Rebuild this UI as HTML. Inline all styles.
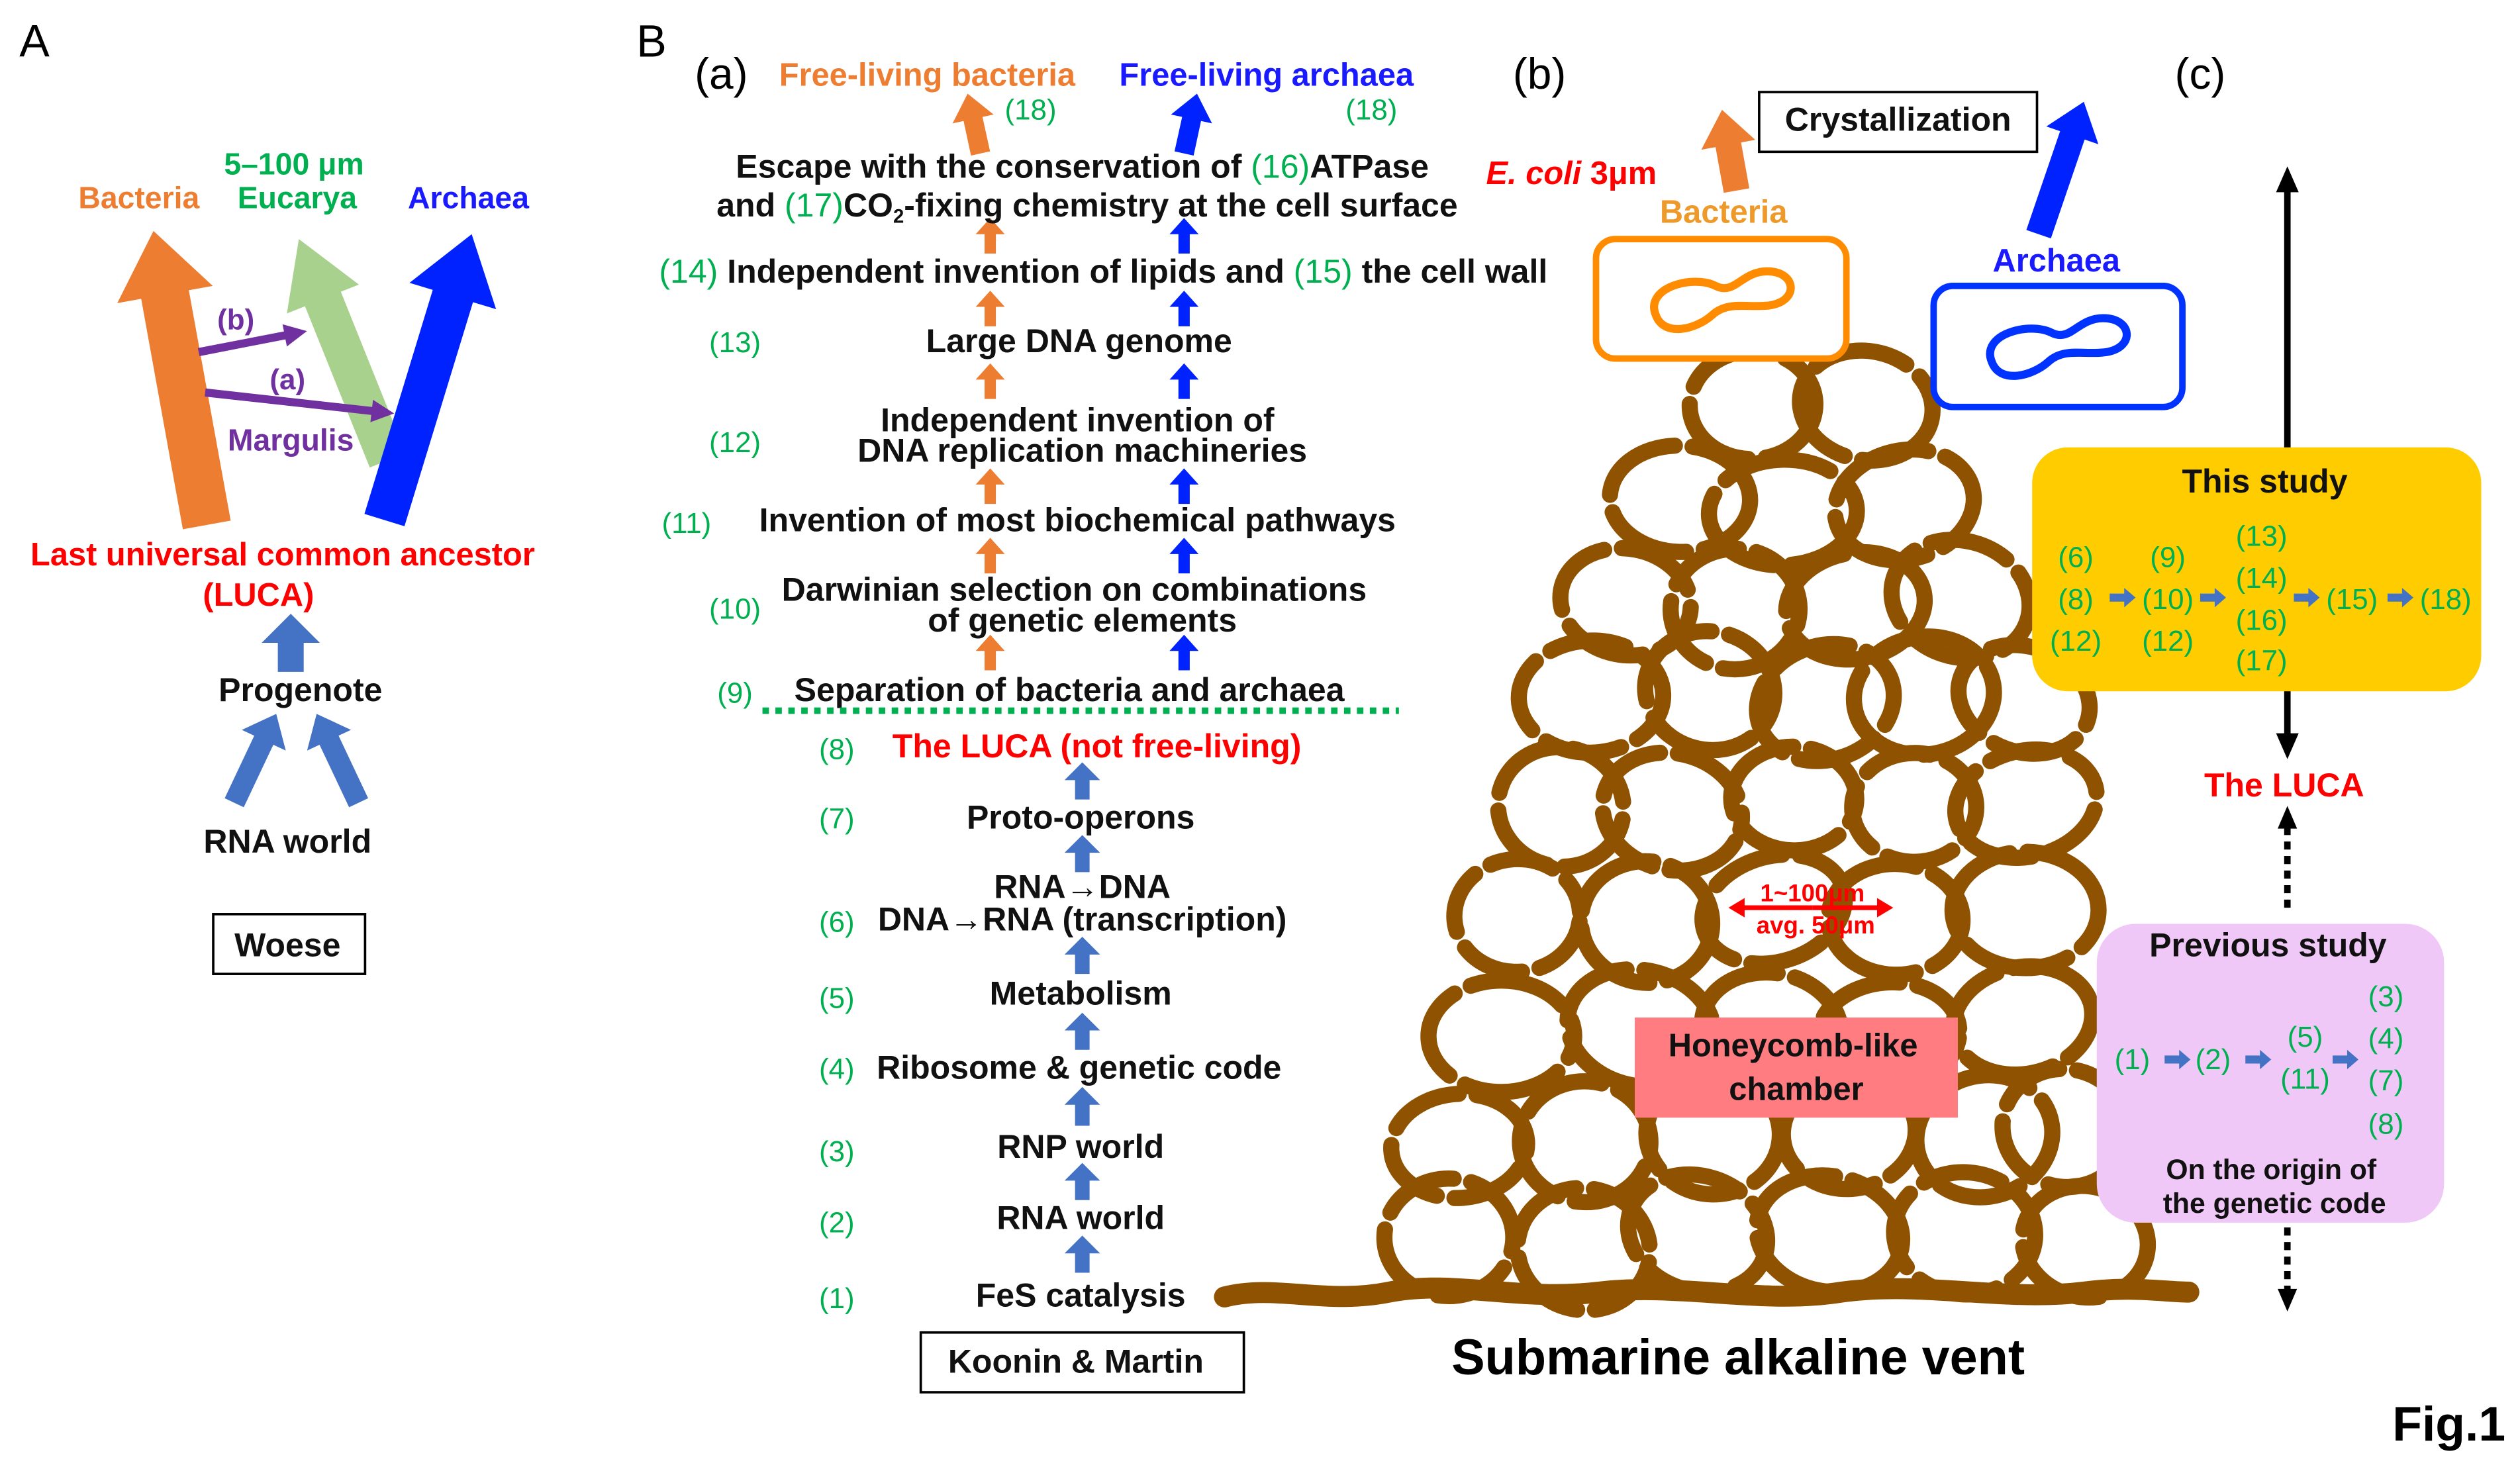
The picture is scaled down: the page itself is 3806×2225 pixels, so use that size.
<!DOCTYPE html>
<html><head><meta charset="utf-8">
<style>
html,body{margin:0;padding:0;background:#fff;}
svg{display:block;}
text{font-family:"Liberation Sans","DejaVu Sans",sans-serif;}
.b{font-weight:bold;}
.k{fill:#111;font-weight:bold;font-size:20.5px;}
.g{fill:#00b050;font-size:18px;}
</style></head><body>
<svg id="s" xmlns="http://www.w3.org/2000/svg" width="3806" height="2225" viewBox="0 0 1560 912" preserveAspectRatio="none">
<rect width="1560" height="912" fill="#fff"/>
<g id="arrows"></g>
<g id="comb" fill="none" stroke="#8f5200" stroke-width="10" stroke-linecap="round"></g>

<!-- Panel A -->
<text x="12" y="35" font-size="28" fill="#000">A</text>
<text x="182" y="108" text-anchor="middle" font-size="19" fill="#00b050" class="b">5–100 μm</text>
<text x="86" y="129" text-anchor="middle" font-size="19" fill="#ed7d31" class="b">Bacteria</text>
<text x="184" y="129" text-anchor="middle" font-size="19" fill="#00b050" class="b">Eucarya</text>
<text x="290" y="129" text-anchor="middle" font-size="19" fill="#1a1aff" class="b">Archaea</text>
<text x="146" y="204" text-anchor="middle" font-size="18" fill="#7030a0" class="b">(b)</text>
<text x="178" y="241" text-anchor="middle" font-size="18" fill="#7030a0" class="b">(a)</text>
<text x="180" y="279" text-anchor="middle" font-size="19" fill="#7030a0" class="b">Margulis</text>
<text x="175" y="350" text-anchor="middle" font-size="20" fill="#ff0000" class="b">Last universal common ancestor</text>
<text x="160" y="375" text-anchor="middle" font-size="20" fill="#ff0000" class="b">(LUCA)</text>
<text x="186" y="434" text-anchor="middle" class="k">Progenote</text>
<text x="178" y="528" text-anchor="middle" class="k">RNA world</text>
<rect x="132" y="566" width="94" height="37" fill="none" stroke="#000" stroke-width="1.5"/>
<text x="178" y="592" text-anchor="middle" class="k">Woese</text>

<!-- Panel B(a) -->
<text x="394" y="35" font-size="28" fill="#000">B</text>
<text x="430" y="55" font-size="27" fill="#000">(a)</text>
<text x="574" y="53" text-anchor="middle" font-size="20" fill="#ed7d31" class="b">Free-living bacteria</text>
<text x="784" y="53" text-anchor="middle" font-size="20" fill="#1a1aff" class="b">Free-living archaea</text>
<text x="638" y="74" text-anchor="middle" class="g">(18)</text>
<text x="849" y="74" text-anchor="middle" class="g">(18)</text>
<text x="670" y="110" text-anchor="middle" class="k">Escape with the conservation of <tspan fill="#00b050" font-weight="normal">(16)</tspan>ATPase</text>
<text x="673" y="134" text-anchor="middle" class="k">and <tspan fill="#00b050" font-weight="normal">(17)</tspan>CO<tspan font-size="12" dy="4">2</tspan><tspan dy="-4">-fixing chemistry at the cell surface</tspan></text>
<text x="408" y="175" class="k"><tspan fill="#00b050" font-weight="normal">(14)</tspan> Independent invention of lipids and <tspan fill="#00b050" font-weight="normal">(15)</tspan> the cell wall</text>
<text x="455" y="218" text-anchor="middle" class="g">(13)</text>
<text x="668" y="218" text-anchor="middle" class="k">Large DNA genome</text>
<text x="455" y="280" text-anchor="middle" class="g">(12)</text>
<text x="667" y="267" text-anchor="middle" class="k">Independent invention of</text>
<text x="670" y="286" text-anchor="middle" class="k">DNA replication machineries</text>
<text x="425" y="330" text-anchor="middle" class="g">(11)</text>
<text x="667" y="329" text-anchor="middle" class="k">Invention of most biochemical pathways</text>
<text x="455" y="383" text-anchor="middle" class="g">(10)</text>
<text x="665" y="372" text-anchor="middle" class="k">Darwinian selection on combinations</text>
<text x="670" y="391" text-anchor="middle" class="k">of genetic elements</text>
<text x="455" y="435" text-anchor="middle" class="g">(9)</text>
<text x="662" y="434" text-anchor="middle" class="k">Separation of bacteria and archaea</text>
<line x1="472" y1="440" x2="866" y2="440" stroke="#00b050" stroke-width="4" stroke-dasharray="4 4"/>
<text x="518" y="470" text-anchor="middle" class="g">(8)</text>
<text x="679" y="469" text-anchor="middle" font-size="20.5" fill="#ff0000" class="b">The LUCA (not free-living)</text>
<text x="518" y="513" text-anchor="middle" class="g">(7)</text>
<text x="669" y="513" text-anchor="middle" class="k">Proto-operons</text>
<text x="670" y="556" text-anchor="middle" class="k">RNA→DNA</text>
<text x="518" y="577" text-anchor="middle" class="g">(6)</text>
<text x="670" y="576" text-anchor="middle" class="k">DNA→RNA (transcription)</text>
<text x="518" y="624" text-anchor="middle" class="g">(5)</text>
<text x="669" y="622" text-anchor="middle" class="k">Metabolism</text>
<text x="518" y="668" text-anchor="middle" class="g">(4)</text>
<text x="668" y="668" text-anchor="middle" class="k">Ribosome &amp; genetic code</text>
<text x="518" y="719" text-anchor="middle" class="g">(3)</text>
<text x="669" y="717" text-anchor="middle" class="k">RNP world</text>
<text x="518" y="763" text-anchor="middle" class="g">(2)</text>
<text x="669" y="761" text-anchor="middle" class="k">RNA world</text>
<text x="518" y="810" text-anchor="middle" class="g">(1)</text>
<text x="669" y="809" text-anchor="middle" class="k">FeS catalysis</text>
<rect x="570" y="825" width="200" height="37" fill="none" stroke="#000" stroke-width="1.5"/>
<text x="666" y="850" text-anchor="middle" class="k">Koonin &amp; Martin</text>

<!-- Panel B(b) -->
<text x="953" y="55" text-anchor="middle" font-size="27" fill="#000">(b)</text>
<rect x="1089" y="57" width="172" height="37" fill="#fff" stroke="#000" stroke-width="1.5"/>
<text x="1175" y="81" text-anchor="middle" class="k">Crystallization</text>
<text x="920" y="114" font-size="20" fill="#ff0000" class="b"><tspan font-style="italic">E. coli</tspan> 3μm</text>
<text x="1067" y="138" text-anchor="middle" font-size="20" fill="#ed9a2a" class="b">Bacteria</text>
<rect x="988" y="148" width="155" height="74" rx="12" fill="#fff" stroke="#ff8c00" stroke-width="4"/>
<path d="M1025,195 C1018,178 1048,170 1062,177 C1074,183 1078,168 1094,168 C1112,168 1114,186 1096,189 C1082,191 1070,186 1060,195 C1050,204 1030,209 1025,195 Z" fill="none" stroke="#ff8c00" stroke-width="5"/>
<text x="1273" y="168" text-anchor="middle" font-size="20" fill="#1a1aff" class="b">Archaea</text>
<rect x="1197" y="177" width="154" height="75" rx="12" fill="#fff" stroke="#0033ff" stroke-width="4"/>
<path d="M1233,224 C1226,207 1256,199 1270,206 C1282,212 1286,197 1302,197 C1320,197 1322,215 1304,218 C1290,220 1278,215 1268,224 C1258,233 1238,238 1233,224 Z" fill="none" stroke="#0033ff" stroke-width="5"/>
<text x="1076" y="851" text-anchor="middle" font-size="31" fill="#000" class="b">Submarine alkaline vent</text>

<!-- Panel (c) -->
<text x="1362" y="55" text-anchor="middle" font-size="27" fill="#000">(c)</text>
<line x1="1416" y1="115" x2="1416" y2="460" stroke="#000" stroke-width="4"/>
<polygon points="1416,103 1409,119 1423,119" fill="#000"/>
<polygon points="1416,470 1409,454 1423,454" fill="#000"/>
<rect x="1258" y="277" width="278" height="151" rx="22" fill="#ffcc00"/>
<text x="1402" y="305" text-anchor="middle" class="k">This study</text>
<g class="g" text-anchor="middle" font-size="19">
<text x="1285" y="351">(6)</text><text x="1285" y="377">(8)</text><text x="1285" y="403">(12)</text>
<text x="1342" y="351">(9)</text><text x="1342" y="377">(10)</text><text x="1342" y="403">(12)</text>
<text x="1400" y="338">(13)</text><text x="1400" y="364">(14)</text><text x="1400" y="390">(16)</text><text x="1400" y="415">(17)</text>
<text x="1456" y="377">(15)</text><text x="1514" y="377">(18)</text>
</g>
<text x="1414" y="493" text-anchor="middle" font-size="20.5" fill="#ff0000" class="b">The LUCA</text>
<line x1="1416" y1="512" x2="1416" y2="566" stroke="#000" stroke-width="4" stroke-dasharray="5 4"/>
<polygon points="1416,499 1410,513 1422,513" fill="#000"/>
<line x1="1416" y1="760" x2="1416" y2="800" stroke="#000" stroke-width="4" stroke-dasharray="5 4"/>
<polygon points="1416,812 1410,798 1422,798" fill="#000"/>
<rect x="1298" y="572" width="215" height="185" rx="24" fill="#f0c8f8"/>
<text x="1404" y="592" text-anchor="middle" class="k">Previous study</text>
<g class="g" text-anchor="middle" font-size="17">
<text x="1320" y="662">(1)</text><text x="1370" y="662">(2)</text>
<text x="1427" y="648">(5)</text><text x="1427" y="674">(11)</text>
<text x="1477" y="623">(3)</text><text x="1477" y="649">(4)</text><text x="1477" y="675">(7)</text><text x="1477" y="702">(8)</text>
</g>
<text x="1406" y="730" text-anchor="middle" font-size="17.5" fill="#111" class="b">On the origin of</text>
<text x="1408" y="751" text-anchor="middle" font-size="17.5" fill="#111" class="b">the genetic code</text>
<text x="1516" y="892" text-anchor="middle" font-size="30" fill="#000" class="b">Fig.1</text>
<g id="top"></g>
</svg>
<script>
var NS="http://www.w3.org/2000/svg";
function poly(g,pts,c){var p=document.createElementNS(NS,"polygon");p.setAttribute("points",pts.map(function(q){return q[0].toFixed(1)+","+q[1].toFixed(1)}).join(" "));p.setAttribute("fill",c);g.appendChild(p);}
function arrow(g,x1,y1,x2,y2,w,hw,hl,c){var dx=x2-x1,dy=y2-y1,L=Math.sqrt(dx*dx+dy*dy),ux=dx/L,uy=dy/L,px=-uy,py=ux;var bx=x2-ux*hl,by=y2-uy*hl;
poly(g,[[x1+px*w/2,y1+py*w/2],[bx+px*w/2,by+py*w/2],[bx+px*hw/2,by+py*hw/2],[x2,y2],[bx-px*hw/2,by-py*hw/2],[bx-px*w/2,by-py*w/2],[x1-px*w/2,y1-py*w/2]],c);}
var A=document.getElementById("arrows"),T=document.getElementById("top");
arrow(A,240,285,185,148,24,48,40,"#a9d18e");
arrow(A,128,325,95,143,30,60,40,"#ed7d31");
arrow(A,238,322,292,145,26,56,40,"#0022ff");
arrow(A,123,218,190,205,5,14,14,"#7030a0");
arrow(A,127,243,244,256,5,14,14,"#7030a0");
arrow(A,180,416,180,380,16,36,18,"#4472c4");
arrow(A,145,497,171,442,13,30,18,"#4472c4");
arrow(A,222,497,196,442,13,30,18,"#4472c4");
arrow(A,607,95,599,58,12,26,16,"#ed7d31");
arrow(A,733,95,741,58,12,26,16,"#0022ff");
[[135,157],[180,202],[225,247],[290,312],[333,355],[393,415]].forEach(function(r){arrow(A,613,r[1],613,r[0],7,18,10,"#ed7d31");arrow(A,733,r[1],733,r[0],7,18,10,"#0022ff");});
[[472,495],[517,540],[580,603],[627,650],[673,697],[720,743],[765,788]].forEach(function(r){arrow(A,670,r[1],670,r[0],9,22,11,"#4472c4");});
arrow(A,1075,118,1066,68,16,34,22,"#ed7d31");
arrow(A,1262,145,1290,63,16,34,22,"#0022ff");
[[1306,1322,370],[1362,1378,370],[1420,1436,370],[1478,1494,370],[1340,1356,656],[1390,1406,656],[1444,1460,656]].forEach(function(r){arrow(T,r[0],r[2],r[1],r[2],5,12,7,"#4472c4");});
var C=document.getElementById("comb");
var rows=[[250,[1085,1150]],[312,[1040,1110,1180]],[372,[1010,1080,1150,1220]],[432,[985,1055,1125,1195,1255]],[500,[965,1040,1115,1190,1258]],[568,[945,1020,1100,1180,1255]],[636,[930,1010,1090,1170,1250]],[704,[910,985,1065,1145,1225,1280]],[768,[900,975,1055,1135,1215,1290]]];
var seed=7;function rnd(){seed=(seed*9301+49297)%233280;return seed/233280;}
rows.forEach(function(r){r[1].forEach(function(x){var e=document.createElementNS(NS,"ellipse");var cx=x+(rnd()-0.5)*14,cy=r[0]+(rnd()-0.5)*12;e.setAttribute("cx",cx.toFixed(1));e.setAttribute("cy",cy.toFixed(1));e.setAttribute("rx",(38+rnd()*8).toFixed(1));e.setAttribute("ry",(32+rnd()*6).toFixed(1));e.setAttribute("transform","rotate("+((rnd()-0.5)*40).toFixed(1)+" "+cx.toFixed(1)+" "+cy.toFixed(1)+")");e.setAttribute("stroke-dasharray",(40+rnd()*30).toFixed(0)+" 11");e.setAttribute("stroke-dashoffset",(rnd()*60).toFixed(0));C.appendChild(e);});});
var b=document.createElementNS(NS,"path");b.setAttribute("d","M758,803 C790,795 820,808 860,800 C900,792 940,806 990,800 C1040,794 1090,808 1140,800 C1190,793 1240,806 1290,800 C1320,796 1340,800 1355,800");b.setAttribute("stroke-width","13");C.appendChild(b);
var red=document.createElementNS(NS,"g");T.appendChild(red);
arrow(red,1122,562,1172,562,3,12,10,"#ff0000");arrow(red,1122,562,1070,562,3,12,10,"#ff0000");
</script>
<svg style="position:absolute;left:0;top:0" width="3806" height="2225" viewBox="0 0 1560 912" preserveAspectRatio="none">
<text x="1122" y="558" text-anchor="middle" font-size="15" fill="#ff0000" font-weight="bold" font-family="Liberation Sans, sans-serif">1~100μm</text>
<text x="1124" y="578" text-anchor="middle" font-size="15" fill="#ff0000" font-weight="bold" font-family="Liberation Sans, sans-serif">avg. 50μm</text>
<rect x="1012" y="630" width="200" height="62" fill="#ff7c80"/>
<text x="1110" y="654" text-anchor="middle" font-size="20" fill="#111" font-weight="bold" font-family="Liberation Sans, sans-serif">Honeycomb-like</text>
<text x="1112" y="681" text-anchor="middle" font-size="20" fill="#111" font-weight="bold" font-family="Liberation Sans, sans-serif">chamber</text>
</svg>
</body></html>
